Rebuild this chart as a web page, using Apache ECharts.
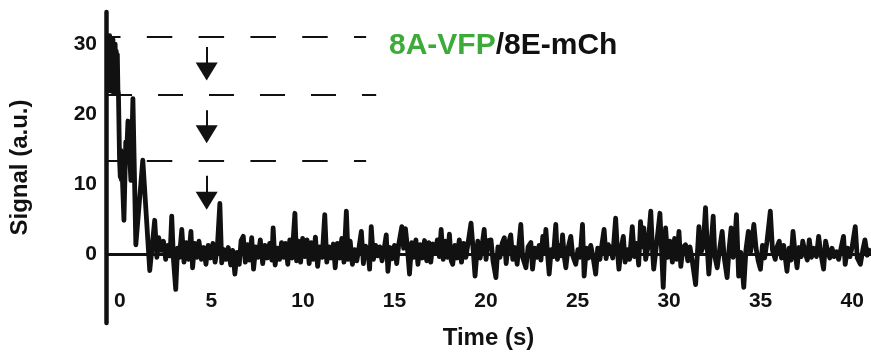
<!DOCTYPE html>
<html>
<head>
<meta charset="utf-8">
<script src="https://cdn.jsdelivr.net/npm/echarts@6/dist/echarts.min.js"></script>
<style>
  html, body { margin: 0; padding: 0; background: #fff; }
  #chart { width: 871px; height: 355px; }
</style>
</head>
<body>
<div id="chart"></div>
<script>
// Signal trace: [time (s), signal (a.u.)]
const trace = [
  [-0.65, 23.0], [-0.62, 31.0], [-0.59, 24.5], [-0.56, 31.2], [-0.53, 23.5], [-0.5, 30.2], [-0.47, 24.0],
  [-0.44, 30.8], [-0.41, 23.2], [-0.38, 30.7], [-0.35, 24.5], [-0.32, 29.8], [-0.29, 23.0], [-0.26, 30.0],
  [-0.23, 24.0], [-0.2, 29.0], [-0.17, 23.0], [-0.14, 28.5], [-0.11, 23.5], [-0.08, 22.9], [-0.02, 13.5],
  [0.02, 11.0], [0.05, 14.8], [0.08, 10.6], [0.11, 14.5], [0.14, 10.5], [0.22, 4.8], [0.32, 16.0],
  [0.37, 14.5], [0.44, 19.0], [0.6, 10.5], [0.71, 22.2], [0.87, 1.3], [1.25, 13.4], [1.63, -2.4], [1.9, 4.8],
  [2.02, -0.5], [2.12, 2.3], [2.25, 0.5], [2.38, 1.8], [2.5, -0.8], [2.62, 1.2], [2.74, -0.3], [2.83, 5.4],
  [2.93, -1.0], [3.05, -5.1], [3.15, 0.8], [3.25, -0.5], [3.38, 3.5], [3.5, -1.2], [3.62, 1.6], [3.75, -0.8],
  [3.88, 3.2], [3.97, -2.0], [4.08, 1.5], [4.2, -0.5], [4.32, 1.8], [4.45, -0.8], [4.58, 0.9], [4.7, -1.5],
  [4.82, 1.2], [4.95, -0.6], [5.08, 1.5], [5.2, -1.2], [5.32, 0.8], [5.46, 7.2], [5.56, -1.3], [5.68, 0.6],
  [5.8, -0.8], [5.92, 0.9], [6.05, -1.6], [6.16, 0.5], [6.28, -2.9], [6.4, 0.2], [6.52, -1.5], [6.62, 1.9],
  [6.74, 2.5], [6.85, -1.2], [6.97, 1.3], [7.08, -0.9], [7.2, 2.3], [7.3, -2.2], [7.42, 1.0], [7.55, -0.5],
  [7.67, 2.0], [7.8, -1.4], [7.92, 1.2], [8.05, -0.6], [8.18, 1.5], [8.3, -0.9], [8.37, 3.7], [8.48, -1.6],
  [8.6, 0.8], [8.72, -0.8], [8.83, 1.6], [8.95, -0.5], [9.05, 1.5], [9.17, -1.5], [9.28, 2.0], [9.4, -0.6],
  [9.56, 5.8], [9.65, -1.0], [9.76, 1.8], [9.87, -1.2], [9.98, 2.2], [10.1, -0.4], [10.22, 2.0], [10.34, -1.4],
  [10.45, 1.6], [10.57, -0.8], [10.68, 2.4], [10.8, -1.8], [10.92, 1.0], [11.05, -0.5], [11.19, 5.6],
  [11.3, -1.2], [11.42, 1.0], [11.54, -0.6], [11.66, 1.4], [11.76, -2.0], [11.88, 1.5], [12.0, -0.6],
  [12.12, 2.2], [12.24, -1.2], [12.37, 6.1], [12.47, -0.8], [12.58, 1.8], [12.7, -1.5], [12.82, 0.6],
  [12.94, -1.0], [13.06, 0.9], [13.19, 3.2], [13.3, -1.4], [13.42, 1.1], [13.55, 0.5], [13.64, -2.2],
  [13.73, 3.9], [13.85, -0.8], [13.97, 1.2], [14.08, -0.3], [14.2, 1.0], [14.32, -1.0], [14.44, 0.8],
  [14.55, 2.7], [14.64, -2.5], [14.76, 0.9], [14.88, -0.7], [15.0, 1.2], [15.12, -1.4], [15.24, 1.5],
  [15.4, 3.9], [15.5, 0.8], [15.6, 3.6], [15.7, 1.0], [15.82, -2.9], [15.94, 1.6], [16.05, -0.5], [16.17, 2.0],
  [16.28, -1.5], [16.4, 1.3], [16.52, -0.6], [16.64, 1.9], [16.76, -1.0], [16.88, 1.6], [16.98, -1.2],
  [17.1, 1.4], [17.22, 0.2], [17.34, 2.0], [17.45, -0.4], [17.55, 3.5], [17.66, -0.8], [17.78, 1.8],
  [17.9, -0.5], [18.0, 2.8], [18.1, -1.0], [18.18, -1.5], [18.3, 1.2], [18.42, -0.6], [18.54, 2.0],
  [18.66, -1.2], [18.78, 1.5], [18.9, -0.5], [19.0, 1.2], [19.18, 4.4], [19.3, 0.5], [19.4, -3.2],
  [19.55, 1.8], [19.68, -0.6], [19.8, 1.5], [19.9, 3.5], [20.0, -0.8], [20.12, 1.9], [20.27, 2.0],
  [20.38, -1.0], [20.54, -3.4], [20.65, 1.0], [20.76, -0.5], [20.88, 1.5], [21.0, 2.3], [21.1, -1.4],
  [21.2, 1.2], [21.35, 2.7], [21.46, -0.8], [21.58, 0.9], [21.7, -1.5], [21.9, 4.2], [22.0, -0.5],
  [22.18, -2.0], [22.3, 1.0], [22.45, 1.6], [22.54, -2.2], [22.66, 0.8], [22.78, -0.5], [22.9, 1.2],
  [23.0, -0.9], [23.1, 2.5], [23.18, 0.4], [23.27, 3.5], [23.36, 0.0], [23.45, -2.9], [23.56, 0.6],
  [23.68, -0.4], [23.81, 4.2], [23.9, -0.8], [24.02, 1.2], [24.1, -0.3], [24.18, 2.7], [24.28, -0.5],
  [24.36, -2.0], [24.48, 0.8], [24.63, 2.5], [24.74, -0.3], [24.9, -1.5], [25.02, 0.6], [25.14, -0.5],
  [25.27, 4.2], [25.36, -3.2], [25.48, 0.8], [25.6, -0.6], [25.72, 1.2], [25.85, -0.5], [25.99, -2.9],
  [26.1, 0.8], [26.22, -0.8], [26.34, 1.5], [26.45, 3.5], [26.56, -0.7], [26.68, 1.3], [26.8, 0.8],
  [26.92, -0.6], [27.08, 5.1], [27.18, 0.3], [27.26, -2.2], [27.38, 0.8], [27.5, 2.5], [27.6, -1.2],
  [27.72, 0.6], [27.84, -0.8], [27.99, 3.9], [28.1, -0.4], [28.22, 1.5], [28.34, -1.6], [28.44, 4.6],
  [28.54, 1.0], [28.62, 3.7], [28.72, -0.8], [28.84, 0.9], [29.0, 6.1], [29.1, 0.2], [29.16, -2.2],
  [29.28, 0.5], [29.5, 5.8], [29.68, -4.8], [29.81, 3.7], [29.92, -0.5], [30.05, 1.8], [30.18, -1.2],
  [30.3, 2.2], [30.42, -0.8], [30.54, 3.2], [30.64, -1.8], [30.76, 0.9], [30.9, 1.3], [31.02, -1.0],
  [31.14, 1.0], [31.26, -0.9], [31.45, -4.4], [31.63, 3.9], [31.74, 0.2], [31.86, 1.0], [31.99, 6.6],
  [32.1, 0.2], [32.17, -2.9], [32.28, 0.8], [32.41, 5.4], [32.5, -0.4], [32.63, -2.0], [32.76, 0.6],
  [32.9, 3.2], [33.02, -0.7], [33.17, -3.4], [33.28, 0.8], [33.39, 3.7], [33.5, -0.5], [33.58, 1.5],
  [33.68, 5.6], [33.8, -3.2], [33.92, 0.2], [34.08, -4.8], [34.2, 0.6], [34.33, 3.2], [34.45, 0.3],
  [34.63, 4.2], [34.75, 0.8], [34.87, -1.0], [34.99, -2.2], [35.1, 1.2], [35.22, -0.6], [35.35, 1.8],
  [35.53, 6.1], [35.65, 0.5], [35.8, -0.8], [35.9, 1.0], [36.02, 1.8], [36.14, -0.6], [36.26, 1.2],
  [36.44, -2.5], [36.56, 0.8], [36.66, -0.9], [36.77, 3.2], [36.88, 0.2], [36.99, -2.0], [37.1, 0.9],
  [37.22, -0.4], [37.3, 1.8], [37.42, 0.3], [37.55, -0.9], [37.66, 2.0], [37.78, -0.5], [37.9, 0.8],
  [38.05, -0.4], [38.17, 2.5], [38.28, 0.2], [38.44, -2.2], [38.55, 1.8], [38.66, 0.4], [38.78, -0.6],
  [38.9, 0.8], [39.02, -0.4], [39.14, 0.3], [39.26, -0.8], [39.4, 0.9], [39.53, 2.5], [39.62, -1.5],
  [39.75, 0.8], [39.88, -0.4], [40.0, 1.0], [40.17, 3.9], [40.28, -0.6], [40.45, -1.5], [40.58, 0.5],
  [40.7, 2.0], [40.82, -0.2], [40.99, 0.8]
];

const xTicks = [0, 5, 10, 15, 20, 25, 30, 35, 40];
const yTicks = [0, 10, 20, 30];

// dashed reference levels (signal) and where they stop (time)
const dashLevels = [31.1, 22.8, 13.3];
const dashStart = -0.65;
const dashEnds = [13.45, 14.0, 13.45];

// downward arrows between levels
const arrowTime = 4.74;
const arrowFrom = [29.6, 20.55, 11.17];
const arrowTo = [26.1, 17.1, 7.6];

const chart = echarts.init(document.getElementById('chart'));
const font = 'Liberation Sans, Arial, sans-serif';

const dashLines = dashLevels.map((v, i) => [
  {
    coord: [dashStart, v],
    symbol: 'none',
    lineStyle: { color: '#111', width: 2, type: i === 1 ? [25, 26] : [25.5, 26.3], dashOffset: i === 1 ? 1 : 13 }
  },
  { coord: [dashEnds[i], v], symbol: 'none' }
]);

const arrows = arrowFrom.map((v, i) => [
  { coord: [arrowTime, v], symbol: 'none', lineStyle: { color: '#111', width: 2, type: 'solid' } },
  { coord: [arrowTime, arrowTo[i]], symbol: 'triangle', symbolSize: [22, 18] }
]);

chart.setOption({
  animation: false,
  backgroundColor: '#fff',
  title: {
    text: '{g|8A-VFP}{k|/8E-mCh}',
    left: 384,
    top: 26,
    textStyle: {
      rich: {
        g: { color: '#3cab3a', fontSize: 30, fontWeight: 'bold', fontFamily: font },
        k: { color: '#111', fontSize: 30, fontWeight: 'bold', fontFamily: font }
      }
    }
  },
  grid: { left: 104, right: 0, top: 12, bottom: 30 },
  xAxis: {
    type: 'value',
    min: -0.76,
    max: 41.03,
    name: 'Time (s)',
    nameLocation: 'middle',
    nameGap: 3,
    nameTextStyle: { color: '#111', fontSize: 24, fontWeight: 'bold', fontFamily: font },
    axisLine: { show: false },
    axisTick: { show: false },
    splitLine: { show: false },
    axisLabel: {
      customValues: xTicks,
      inside: true,
      margin: 11,
      color: '#111',
      fontSize: 21,
      fontWeight: 'bold',
      fontFamily: font
    }
  },
  yAxis: {
    type: 'value',
    min: -9.9,
    max: 34.6,
    name: 'Signal (a.u.)',
    nameLocation: 'middle',
    nameGap: 74,
    nameTextStyle: { color: '#111', fontSize: 24, fontWeight: 'bold', fontFamily: font },
    axisLine: { show: true, onZero: false, lineStyle: { color: '#111', width: 4.5 } },
    axisTick: { show: false },
    splitLine: { show: false },
    axisLabel: {
      customValues: yTicks,
      margin: 9,
      color: '#111',
      fontSize: 21,
      fontWeight: 'bold',
      fontFamily: font
    }
  },
  series: [
    {
      type: 'line',
      data: trace,
      showSymbol: false,
      lineStyle: { color: '#111', width: 4.8, join: 'round' },
      z: 3,
      markLine: {
        silent: true,
        symbol: ['none', 'none'],
        label: { show: false },
        emphasis: { disabled: true },
        data: [
          [
            { coord: [-0.76, 0], symbol: 'none', lineStyle: { color: '#111', width: 3, type: 'solid' } },
            { coord: [41.03, 0], symbol: 'none' }
          ],
          ...dashLines,
          ...arrows
        ]
      }
    }
  ]
});
</script>
</body>
</html>
